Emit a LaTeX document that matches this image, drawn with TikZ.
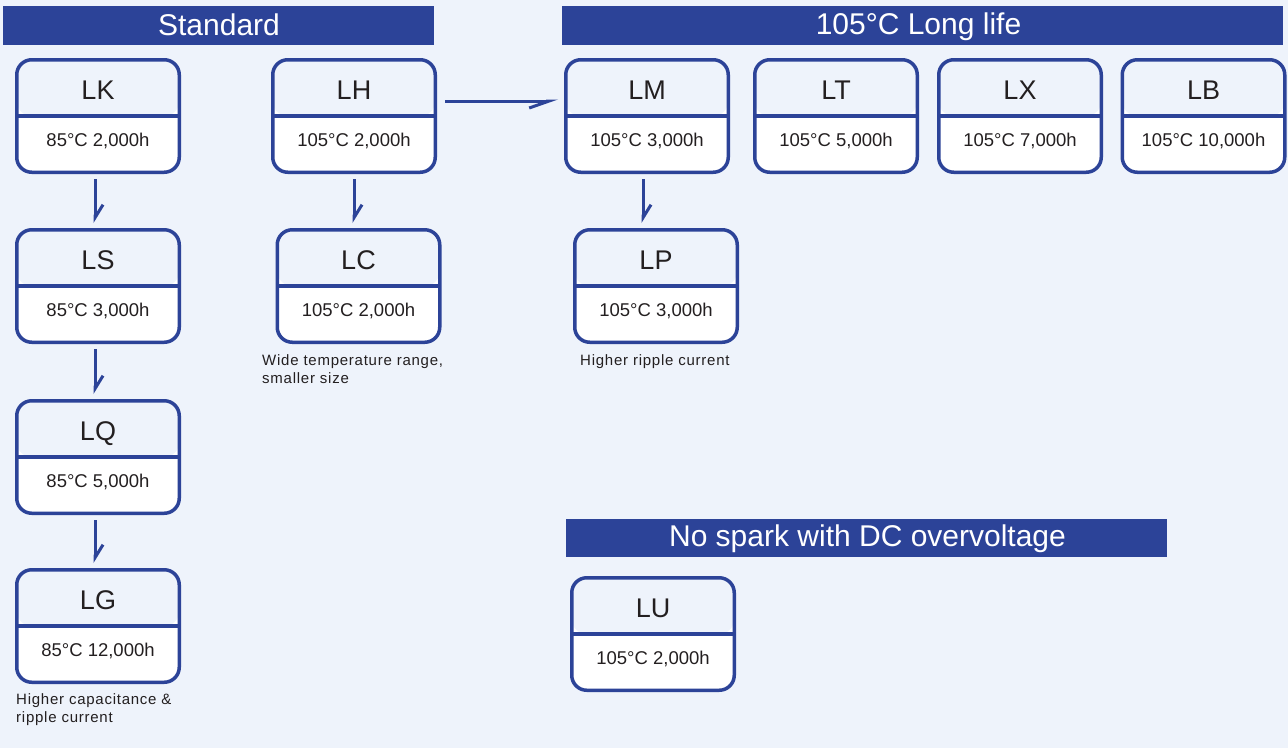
\documentclass[tikz,border=0pt]{standalone}
\usepackage{fontspec}
\setmainfont{Liberation Sans}
\newfontfamily\capfont[LetterSpace=5]{Liberation Sans}
\usetikzlibrary{arrows.meta,calc}
\definecolor{bgcol}{HTML}{EEF3FB}
\definecolor{barcol}{HTML}{2C4398}
\definecolor{txtcol}{HTML}{231F20}
\tikzset{
  cbox/.style={draw=barcol, line width=3.5pt, rounded corners=15pt, fill=white,
    minimum width=162.5pt, minimum height=112.5pt, inner sep=0pt,
    path picture={\fill[bgcol] (path picture bounding box.north west) rectangle (path picture bounding box.east);
      \draw[barcol, line width=3.5pt] (path picture bounding box.west) -- (path picture bounding box.east);}},
  lbl/.style={anchor=base, text=txtcol, font=\fontsize{27}{32}\selectfont, inner sep=0pt},
  spec/.style={anchor=base, text=txtcol, font=\fontsize{18.5}{22}\selectfont, inner sep=0pt},
  bar/.style={fill=barcol, inner sep=0pt},
  bartext/.style={anchor=base, inner sep=0pt, text=white, font=\fontsize{30}{36}\selectfont},
  note/.style={anchor=base west, text=txtcol, font=\capfont\fontsize{15}{18}\selectfont, inner sep=0pt, align=left},
  varr/.style={draw=barcol, line width=3pt, -{Straight Barb[left, length=13pt, width=16pt, line width=3pt]}},
  harr/.style={draw=barcol, line width=3pt, -{Straight Barb[right, length=20pt, width=14pt, line width=3pt]}},
}
\newcommand\capbox[5]{%
  \node[cbox] (#1) at (#2,#3) {};
  \node[lbl] (#1-l) at (#2,#3-17) {#4};
  \node[spec] (#1-s) at (#2,#3+30) {#5};
}
\begin{document}
\begin{tikzpicture}[x=1pt,y=-1pt]
\useasboundingbox[fill=bgcol] (0,0) rectangle (1288,748);
% header bars
\node[bar, minimum width=431pt, minimum height=39pt] (hstd) at (218.5,25.5) {};
\node[bartext] (hstd-t) at (219,35.5) {Standard};
\node[bar, minimum width=721pt, minimum height=39pt] (hlong) at (922.5,25.5) {};
\node[bartext] (hlong-t) at (918.5,34.5) {105°C Long life};
\node[bar, minimum width=601pt, minimum height=38pt] (hspark) at (866.5,538) {};
\node[bartext] (hspark-t) at (867.5,546.5) {No spark with DC overvoltage};
% boxes
\capbox{LK}{98}{116}{LK}{85°C 2,000h}
\capbox{LS}{98}{286}{LS}{85°C 3,000h}
\capbox{LQ}{98}{457}{LQ}{85°C 5,000h}
\capbox{LG}{98}{626}{LG}{85°C 12,000h}
\capbox{LH}{354}{116}{LH}{105°C 2,000h}
\capbox{LC}{358.5}{286}{LC}{105°C 2,000h}
\capbox{LM}{647}{116}{LM}{105°C 3,000h}
\capbox{LP}{656}{286}{LP}{105°C 3,000h}
\capbox{LT}{836}{116}{LT}{105°C 5,000h}
\capbox{LX}{1020}{116}{LX}{105°C 7,000h}
\capbox{LB}{1203.5}{116}{LB}{105°C 10,000h}
\capbox{LU}{653}{634}{LU}{105°C 2,000h}
% notes
\node[note] (nLG) at (16,722) {Higher capacitance \&\\[0pt]ripple current};
\node[note] (nLC) at (262,383) {Wide temperature range,\\[0pt]smaller size};
\node[note] (nLP) at (580,365) {Higher ripple current};
% arrows
\draw[varr] ([xshift=-3pt,yshift=-5pt]LK.south) -- ([xshift=-3pt,yshift=5pt]LS.north);
\draw[varr] ([xshift=-3pt,yshift=-5pt]LS.south) -- ([xshift=-3pt,yshift=5pt]LQ.north);
\draw[varr] ([xshift=-3pt,yshift=-5pt]LQ.south) -- ([xshift=-3pt,yshift=5pt]LG.north);
\draw[varr] ([yshift=-5pt]LH.south) -- ([xshift=-4.5pt,yshift=5pt]LC.north);
\draw[varr] ([xshift=-4pt,yshift=-5pt]LM.south) -- ([xshift=-13pt,yshift=5pt]LP.north);
\draw[harr] ([xshift=8pt,yshift=15pt]LH.east) -- ([xshift=-6pt,yshift=15pt]LM.west);
\end{tikzpicture}
\end{document}
